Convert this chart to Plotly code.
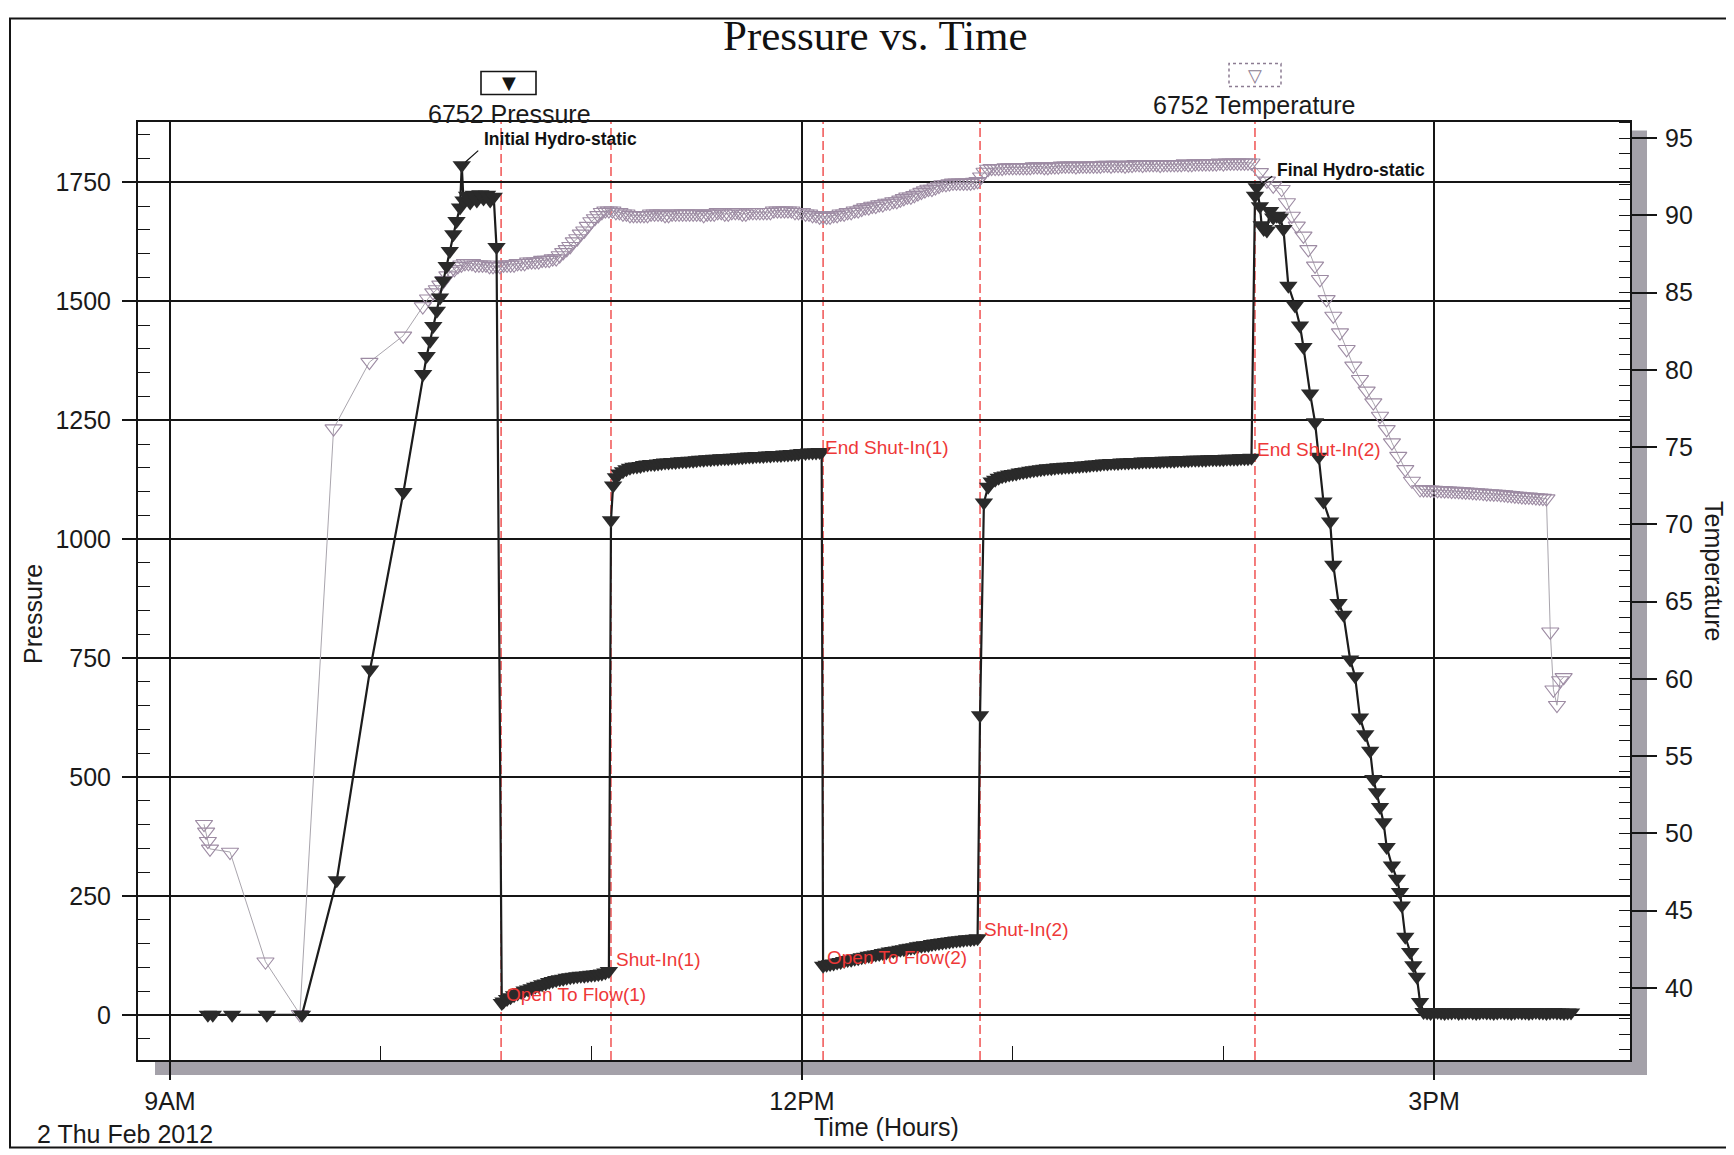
import plotly.graph_objects as go

# ---------------- data (time = minutes after 9:00 AM, Thu 2 Feb 2012) ----------------
PRESSURE_MIN = [
    10.8, 12.2, 17.7, 27.6, 37.6,
    47.5, 57.0, 66.5, 72.1, 73.1, 74.1, 75.0, 76.0, 76.9, 77.8, 78.8, 79.7, 80.7, 81.6, 82.6, 83.1,
    83.6, 84.6, 85.5, 86.5, 87.4, 88.4, 89.3, 90.3, 91.2, 92.2, 93.0,
    94.5, 95, 96, 97, 98, 99, 100, 101, 102, 103, 104, 105, 106, 107, 108, 109, 110,
    111, 112, 113, 114, 115, 116, 117, 118, 119, 120, 121, 122, 123, 124, 125,
    125.6, 126.2,
    127, 128, 129, 130, 131, 132, 133, 134, 135, 136,
    137, 138, 139, 140, 141, 142, 143, 144, 145, 146,
    147, 148, 149, 150, 151, 152, 153, 154, 155, 156,
    157, 158, 159, 160, 161, 162, 163, 164, 165, 166,
    167, 168, 169, 170, 171, 172, 173, 174, 175, 176,
    177, 178, 179, 180, 181, 182, 183, 184, 185, 185.6,
    186, 187, 188, 189, 190, 191, 192, 193, 194, 195,
    196, 197, 198, 199, 200, 201, 202, 203, 204, 205,
    206, 207, 208, 209, 210, 211, 212, 213, 214, 215,
    216, 217, 218, 219, 220, 221, 222, 223, 224, 225,
    226, 227, 228, 229, 230,
    230.7, 231.8, 233,
    234, 235, 236, 237, 238, 239, 240, 241, 242, 243,
    244, 245, 246, 247, 248, 249, 250, 251, 252, 253,
    254, 255, 256, 257, 258, 259, 260, 261, 262, 263,
    264, 265, 266, 267, 268, 269, 270, 271, 272, 273,
    274, 275, 276, 277, 278, 279, 280, 281, 282, 283,
    284, 285, 286, 287, 288, 289, 290, 291, 292, 293,
    294, 295, 296, 297, 298, 299, 300, 301, 302, 303,
    304, 305, 306, 307, 308,
    309.0, 309.5, 310.4, 310.9, 311.5, 312.4, 313.3, 314.2, 315.2, 316.1,
    317.1, 318.5, 320.4, 321.8, 322.8, 324.7, 326.1, 327.1, 328.5, 330.4,
    331.3, 332.8, 334.2, 336.1, 337.5, 338.9, 340.4, 341.8, 342.7, 343.7,
    344.6, 345.6, 346.5, 348.0, 349.4, 350.3, 350.8, 351.8, 353.2, 354.1,
    355.1, 356.0,
    357, 358, 359, 360, 361, 362, 363, 364, 365, 366,
    367, 368, 369, 370, 371, 372, 373, 374, 375, 376,
    377, 378, 379, 380, 381, 382, 383, 384, 385, 386,
    387, 388, 389, 390, 391, 392, 393, 394, 395, 396,
    397, 398, 399,
]
PRESSURE_PSI = [
    0, 0, 0, 0, 0,
    283, 726, 1099, 1347, 1385, 1417, 1448, 1480, 1508, 1543, 1574, 1606, 1641, 1669, 1697, 1786,
    1712, 1722, 1708, 1724, 1712, 1725, 1716, 1724, 1712, 1720, 1614,
    25, 28, 33, 37, 41, 45, 48, 51, 53, 56, 59, 61, 64, 66, 69, 71, 73,
    75, 76, 78, 79, 80, 81, 82, 82, 83, 84, 85, 86, 87, 89, 92,
    1040, 1113,
    1130, 1138, 1143, 1147, 1150, 1152, 1153, 1154, 1156, 1157,
    1158, 1158, 1159, 1160, 1161, 1161, 1162, 1162, 1163, 1164,
    1164, 1165, 1165, 1166, 1167, 1167, 1168, 1168, 1169, 1169,
    1170, 1170, 1170, 1171, 1171, 1172, 1172, 1173, 1174, 1174,
    1175, 1175, 1175, 1176, 1176, 1177, 1177, 1177, 1178, 1178,
    1179, 1179, 1180, 1181, 1181, 1182, 1182, 1182, 1183, 1183,
    103, 105, 107, 108, 110, 111, 113, 115, 116, 118,
    119, 121, 122, 124, 125, 127, 128, 130, 131, 133,
    134, 135, 137, 138, 140, 141, 142, 144, 145, 146,
    147, 149, 150, 151, 152, 153, 154, 155, 156, 157,
    158, 159, 159, 160, 161,
    630, 1077, 1110,
    1121, 1125, 1129, 1132, 1134, 1136, 1137, 1138, 1140, 1141,
    1142, 1144, 1145, 1146, 1147, 1148, 1149, 1149, 1150, 1151,
    1151, 1152, 1152, 1153, 1154, 1154, 1155, 1155, 1156, 1157,
    1157, 1158, 1159, 1159, 1160, 1160, 1160, 1161, 1161, 1161,
    1162, 1162, 1162, 1163, 1163, 1163, 1164, 1164, 1164, 1165,
    1165, 1165, 1165, 1166, 1166, 1166, 1166, 1167, 1167, 1167,
    1167, 1167, 1168, 1168, 1168, 1168, 1168, 1169, 1169, 1169,
    1169, 1170, 1170, 1170, 1171,
    1722, 1740, 1700, 1660, 1652, 1649, 1690, 1676, 1680, 1676,
    1652, 1533, 1491, 1449, 1404, 1306, 1246, 1173, 1079, 1037,
    946, 866, 841, 747, 712, 625, 590, 555, 496, 468,
    437, 405, 353, 314, 286, 258, 230, 164, 132, 104,
    80, 27,
    6, 5, 4, 5, 6, 5, 4, 5, 5, 6,
    4, 5, 5, 6, 5, 4, 5, 6, 5, 5,
    4, 5, 6, 5, 5, 4, 5, 6, 5, 5,
    4, 5, 6, 5, 5, 4, 5, 6, 5, 5,
    4, 5, 5,
]

TEMP_MIN = [
    9.7, 10.3, 10.8, 11.4, 17.1, 27.2, 37.0, 46.6, 56.8, 66.4, 72.0, 73.5,
    75, 76, 77, 78, 79, 80, 81, 82, 83, 84,
    85, 86, 87, 88, 89, 90, 91, 92, 93, 94,
    95, 96, 97, 98, 99, 100, 101, 102, 103, 104,
    105, 106, 107, 108, 109, 110, 111, 112, 113, 114,
    115, 116, 117, 118, 119, 120, 121, 122, 123, 124,
    125, 126, 127, 128, 129, 130, 131, 132, 133, 134,
    135, 136, 137, 138, 139, 140, 141, 142, 143, 144,
    145, 146, 147, 148, 149, 150, 151, 152, 153, 154,
    155, 156, 157, 158, 159, 160, 161, 162, 163, 164,
    165, 166, 167, 168, 169, 170, 171, 172, 173, 174,
    175, 176, 177, 178, 179, 180, 181, 182, 183, 184,
    185, 186, 187, 188, 189, 190, 191, 192, 193, 194,
    195, 196, 197, 198, 199, 200, 201, 202, 203, 204,
    205, 206, 207, 208, 209, 210, 211, 212, 213, 214,
    215, 216, 217, 218, 219, 220, 221, 222, 223, 224,
    225, 226, 227, 228, 229, 230, 231, 232, 233, 234,
    235, 236, 237, 238, 239, 240, 241, 242, 243, 244,
    245, 246, 247, 248, 249, 250, 251, 252, 253, 254,
    255, 256, 257, 258, 259, 260, 261, 262, 263, 264,
    265, 266, 267, 268, 269, 270, 271, 272, 273, 274,
    275, 276, 277, 278, 279, 280, 281, 282, 283, 284,
    285, 286, 287, 288, 289, 290, 291, 292, 293, 294,
    295, 296, 297, 298, 299, 300, 301, 302, 303, 304,
    305, 306, 307, 308,
    310.4, 312.4, 314.2, 316.6, 318.1, 319.5, 320.9, 322.8, 324.2, 326.1,
    327.5, 329.4, 331.3, 333.2, 335.1, 337.0, 338.9, 340.8, 342.7, 344.6,
    346.5, 348.0, 349.8, 351.8, 353.7, 356.0,
    357, 358, 359, 360, 361, 362, 363, 364, 365, 366,
    367, 368, 369, 370, 371, 372, 373, 374, 375, 376,
    377, 378, 379, 380, 381, 382, 383, 384, 385, 386,
    387, 388, 389, 390, 391, 392,
    393.1, 394.0, 395.0, 395.9, 396.9,
]
TEMP_F = [
    50.6, 50.1, 49.5, 49.0, 48.8, 41.7, 38.3, 76.2, 80.5, 82.2, 84.1, 84.6,
    85.0, 85.2, 85.5, 85.8, 86.1, 86.4, 86.5, 86.7, 86.8, 86.9,
    86.9, 86.9, 86.8, 86.8, 86.8, 86.8, 86.7, 86.7, 86.7, 86.7,
    86.8, 86.8, 86.8, 86.8, 86.9, 86.9, 86.9, 87.0, 87.0, 87.0,
    87.0, 87.1, 87.1, 87.1, 87.2, 87.2, 87.4, 87.6, 87.8, 88.0,
    88.3, 88.5, 88.8, 89.0, 89.3, 89.6, 89.8, 90.0, 90.2, 90.3,
    90.3, 90.3, 90.2, 90.2, 90.1, 90.1, 90.0, 90.0, 90.0, 90.0,
    90.0, 90.0, 90.1, 90.1, 90.1, 90.1, 90.0, 90.0, 90.1, 90.1,
    90.1, 90.1, 90.1, 90.1, 90.1, 90.1, 90.1, 90.0, 90.1, 90.1,
    90.1, 90.2, 90.2, 90.1, 90.1, 90.2, 90.2, 90.2, 90.1, 90.1,
    90.2, 90.2, 90.2, 90.2, 90.2, 90.2, 90.2, 90.3, 90.3, 90.3,
    90.3, 90.3, 90.3, 90.2, 90.2, 90.2, 90.1, 90.1, 90.0, 90.0,
    89.9, 89.9, 89.9, 89.9, 90.0, 90.0, 90.1, 90.1, 90.2, 90.2,
    90.3, 90.3, 90.4, 90.5, 90.5, 90.6, 90.6, 90.7, 90.7, 90.8,
    90.8, 90.9, 90.9, 91.0, 91.1, 91.2, 91.2, 91.3, 91.4, 91.5,
    91.6, 91.7, 91.7, 91.8, 91.9, 92.0, 92.0, 92.05, 92.1, 92.1,
    92.1, 92.1, 92.1, 92.1, 92.15, 92.2, 92.5, 92.8, 93.0, 93.05,
    93.05, 93.05, 93.05, 93.1, 93.1, 93.1, 93.1, 93.1, 93.1, 93.1,
    93.1, 93.15, 93.15, 93.15, 93.1, 93.1, 93.15, 93.15, 93.15, 93.2,
    93.2, 93.2, 93.2, 93.15, 93.2, 93.2, 93.2, 93.2, 93.2, 93.2,
    93.2, 93.25, 93.25, 93.2, 93.25, 93.25, 93.25, 93.2, 93.25, 93.25,
    93.3, 93.3, 93.25, 93.3, 93.3, 93.3, 93.3, 93.25, 93.3, 93.3,
    93.3, 93.3, 93.3, 93.3, 93.35, 93.3, 93.3, 93.35, 93.35, 93.35,
    93.35, 93.35, 93.35, 93.35, 93.4, 93.35, 93.4, 93.4, 93.4, 93.4,
    93.4, 93.4, 93.4, 93.4,
    92.78, 92.23, 91.91, 91.69, 90.83, 89.96, 89.32, 88.67, 87.80, 86.73,
    85.86, 84.56, 83.49, 82.41, 81.33, 80.26, 79.39, 78.64, 77.88, 77.01,
    76.15, 75.29, 74.42, 73.56, 72.81, 72.26,
    72.25, 72.25, 72.24, 72.22, 72.21, 72.20, 72.19, 72.18, 72.16, 72.15,
    72.14, 72.12, 72.11, 72.10, 72.08, 72.06, 72.05, 72.03, 72.00, 71.99,
    71.98, 71.97, 71.95, 71.93, 71.90, 71.88, 71.85, 71.83, 71.80, 71.79,
    71.78, 71.76, 71.74, 71.72, 71.70, 71.67,
    63.05, 59.3, 58.3, 59.9, 60.1,
]

EVENT_MIN = [94.3, 125.6, 186.0, 230.7, 309.0]
LABEL_TEXT = ["Open To Flow(1)", "Shut-In(1)", "End Shut-In(1)",
              "Open To Flow(2)", "Shut-In(2)", "End Shut-In(2)"]
LABEL_MIN = [94.5, 125.0, 185.6, 186.0, 230.0, 308.0]
LABEL_PSI = [25, 92, 1183, 103, 161, 1171]
HYDRO_TEXT = ["Initial Hydro-static", "Final Hydro-static"]
HYDRO_MIN = [83.1, 309.5]
HYDRO_PSI = [1786, 1740]

X_TICKS = [0, 180, 360]
X_TICK_TEXT = ["9AM", "12PM", "3PM"]
X_MINOR = [60, 120, 240, 300]
X_RANGE = [-9.1, 415.8]
P_RANGE = [-95, 1877]
T_RANGE = [35.34, 96.04]

# ---------------- layout geometry (page pixels) ----------------
W, H = 1734, 1155
OFF = 8                      # browser body margin around the plot div
L, R, T, B = 138, 1630, 121.5, 1060.5
FONT = "Liberation Sans, Arial, sans-serif"
RED = "#ee3838"
BLACK = "#151515"
TEMP_COLOR = "#9d8ba3"


def px(x):
    return (x - L) / (R - L)


def py(y):
    return (B - y) / (B - T)


fig = go.Figure()
fig.add_trace(go.Scatter(
    x=TEMP_MIN, y=TEMP_F, yaxis="y", mode="lines+markers", name="6752 Temperature",
    line=dict(color="#a9a5ad", width=1),
    marker=dict(symbol="triangle-down-open", size=15, color=TEMP_COLOR,
                line=dict(width=1.1, color=TEMP_COLOR)),
))
fig.add_trace(go.Scatter(
    x=PRESSURE_MIN, y=PRESSURE_PSI, yaxis="y2", mode="lines+markers", name="6752 Pressure",
    line=dict(color="#1c1c1c", width=2.2),
    marker=dict(symbol="triangle-down", size=16, color="#2a2a2a", line=dict(width=0)),
))

shapes = []
# outer page frame
shapes.append(dict(type="rect", xref="paper", yref="paper",
                   x0=px(10), x1=px(1760), y0=py(1148), y1=py(18),
                   line=dict(color=BLACK, width=2), fillcolor="rgba(0,0,0,0)"))
# drop shadow of plot frame
shapes.append(dict(type="rect", xref="paper", yref="paper", layer="below",
                   x0=px(155), x1=px(1647), y0=py(B + 15), y1=py(B + 1),
                   line=dict(width=0), fillcolor="#a4a1a9"))
shapes.append(dict(type="rect", xref="paper", yref="paper", layer="below",
                   x0=px(1631), x1=px(1647), y0=py(B + 15), y1=py(130),
                   line=dict(width=0), fillcolor="#a4a1a9"))
# legend boxes
shapes.append(dict(type="rect", xref="paper", yref="paper",
                   x0=px(481), x1=px(536), y0=py(94), y1=py(71),
                   line=dict(color=BLACK, width=1.6)))
shapes.append(dict(type="rect", xref="paper", yref="paper",
                   x0=px(1229), x1=px(1281), y0=py(86), y1=py(63),
                   line=dict(color="#8c7c92", width=1.5, dash="dot")))
# event lines
for t in EVENT_MIN:
    shapes.append(dict(type="line", xref="x", yref="paper", x0=t, x1=t, y0=0, y1=1,
                       layer="between", line=dict(color=RED, width=1.3, dash="9px,4px")))

ann = []
ann.append(dict(xref="paper", yref="paper", x=px(875), y=py(35), text="Pressure vs. Time",
                showarrow=False, xanchor="center", yanchor="middle",
                font=dict(family="Liberation Serif, Times New Roman, serif", size=43, color="#111")))
ann.append(dict(xref="paper", yref="paper", x=px(509), y=py(82), text="▼", showarrow=False,
                xanchor="center", yanchor="middle", font=dict(family="DejaVu Sans", size=18, color=BLACK)))
ann.append(dict(xref="paper", yref="paper", x=px(509), y=py(113), text="6752 Pressure", showarrow=False,
                xanchor="center", yanchor="middle", font=dict(family=FONT, size=25, color="#1a1a1a")))
ann.append(dict(xref="paper", yref="paper", x=px(1255), y=py(75), text="▽", showarrow=False,
                xanchor="center", yanchor="middle", font=dict(family="DejaVu Sans", size=18, color="#8c7c92")))
ann.append(dict(xref="paper", yref="paper", x=px(1254), y=py(104), text="6752 Temperature", showarrow=False,
                xanchor="center", yanchor="middle", font=dict(family=FONT, size=25, color="#1a1a1a")))
ann.append(dict(xref="paper", yref="paper", x=px(33), y=py(614), text="Pressure", textangle=-90,
                showarrow=False, xanchor="center", yanchor="middle", font=dict(family=FONT, size=25)))
ann.append(dict(xref="paper", yref="paper", x=px(1714), y=py(571), text="Temperature", textangle=90,
                showarrow=False, xanchor="center", yanchor="middle", font=dict(family=FONT, size=25)))
ann.append(dict(xref="paper", yref="paper", x=px(886), y=py(1128), text="Time (Hours)",
                showarrow=False, xanchor="center", yanchor="middle", font=dict(family=FONT, size=25)))
ann.append(dict(xref="paper", yref="paper", x=px(35), y=py(1135), text="2 Thu Feb 2012",
                showarrow=False, xanchor="left", yanchor="middle", font=dict(family=FONT, size=25)))

LABEL_SHIFT = [(2, 8), (5, 12), (1, 5), (2, 8), (4, 9), (4, 8)]
for txt, t, p, (dx, dy) in zip(LABEL_TEXT, LABEL_MIN, LABEL_PSI, LABEL_SHIFT):
    ann.append(dict(xref="x", yref="y2", x=t, y=p, text=txt, showarrow=False,
                    xanchor="left", yanchor="middle", xshift=dx, yshift=dy,
                    font=dict(family=FONT, size=19, color=RED)))

HYDRO_TEXT_SHIFT = [(20, 26), (18, 17)]
HYDRO_LEADER = [(18, -16), (17, -12)]
for txt, t, p, (dx, dy), (lx, ly) in zip(HYDRO_TEXT, HYDRO_MIN, HYDRO_PSI, HYDRO_TEXT_SHIFT, HYDRO_LEADER):
    ann.append(dict(xref="x", yref="y2", x=t, y=p, text=txt, showarrow=False,
                    xanchor="left", yanchor="middle", xshift=dx, yshift=dy,
                    font=dict(family=FONT, size=17.5, color="#111", weight="bold")))
    ann.append(dict(xref="x", yref="y2", x=t, y=p, text=" ", showarrow=True,
                    ax=lx, ay=ly, axref="pixel", ayref="pixel", arrowhead=0, arrowwidth=1.2,
                    arrowcolor="#111", standoff=5, font=dict(size=1)))

axis_common = dict(tickcolor=BLACK, tickwidth=1.5, showline=True, linecolor=BLACK, linewidth=2,
                   zeroline=False, tickfont=dict(family=FONT, size=25, color="#1a1a1a"))

fig.update_layout(
    width=W - OFF, height=H - OFF,
    margin=dict(l=L - OFF, r=W - R, t=T - OFF, b=H - B, pad=0),
    paper_bgcolor="white", plot_bgcolor="white",
    showlegend=False,
    font=dict(family=FONT, size=25, color="#1a1a1a"),
    xaxis=dict(range=X_RANGE, tickmode="array", tickvals=X_TICKS, ticktext=X_TICK_TEXT,
               ticks="outside", ticklen=18, showgrid=True, gridcolor=BLACK, gridwidth=1.5,
               mirror=True,
               minor=dict(tickmode="array", tickvals=X_MINOR, ticks="inside", ticklen=14,
                          tickwidth=1.3, tickcolor=BLACK, showgrid=False),
               **axis_common),
    yaxis=dict(range=T_RANGE, side="right", tickmode="linear", tick0=0, dtick=5,
               ticks="outside", ticklen=25, showgrid=False, ticklabelstandoff=3,
               minor=dict(tick0=0, dtick=1, ticks="inside", ticklen=11, tickwidth=1.2,
                          tickcolor=BLACK, showgrid=False),
               **axis_common),
    yaxis2=dict(range=P_RANGE, side="left", overlaying="y", tickmode="linear", tick0=0, dtick=250,
                ticks="outside", ticklen=14, showgrid=True, gridcolor=BLACK, gridwidth=1.5,
                ticklabelstandoff=6,
                minor=dict(tick0=0, dtick=50, ticks="inside", ticklen=12, tickwidth=1.2,
                           tickcolor=BLACK, showgrid=False),
                **axis_common),
    shapes=shapes,
    annotations=ann,
)

fig.write_html("out.html")
